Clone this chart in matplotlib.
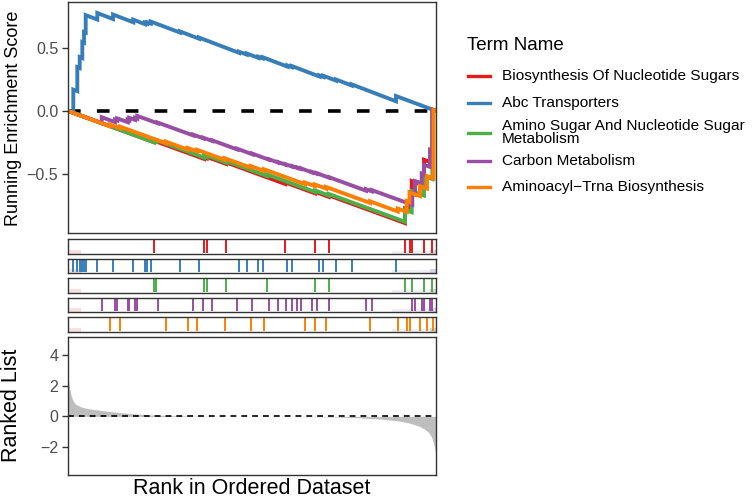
import matplotlib
matplotlib.use('Agg')
import matplotlib.pyplot as plt
from matplotlib.lines import Line2D

plt.rcParams['font.family'] = ['Liberation Sans', 'DejaVu Sans']

# 1. data
n_genes = 1000
terms = ['Biosynthesis Of Nucleotide Sugars', 'Abc Transporters',
         'Amino Sugar And Nucleotide Sugar\nMetabolism', 'Carbon Metabolism',
         'Aminoacyl\u2212Trna Biosynthesis']
colors = ['#E41A1C', '#377EB8', '#4DAF4A', '#984EA3', '#FF7F00']

# hit ranks, running score just before and just after each hit
red_hits = [233.7, 369.6, 376.9, 429.3, 589.7, 671.2, 708.4, 915.8, 929.3, 934.0, 967.4, 990.0]
red_before = [-0.250, -0.383, -0.379, -0.423, -0.583, -0.658, -0.686, -0.896, -0.794, -0.675, -0.596, -0.414]
red_after = [-0.238, -0.371, -0.367, -0.411, -0.571, -0.646, -0.674, -0.780, -0.670, -0.560, -0.390, 0.010]

blue_hits = [14.4, 25.3, 31.8, 38.9, 43.5, 48.1, 79.6, 122.3, 177.4, 209.2, 215.5, 224.7, 304.3,
             356.0, 464.7, 485.6, 517.1, 529.1, 596.0, 608.0, 683.0, 693.8, 728.3, 771.0, 891.3]
blue_before = [-0.015, 0.158, 0.343, 0.422, 0.545, 0.625, 0.730, 0.734, 0.708, 0.693, 0.698, 0.698, 0.626,
               0.577, 0.464, 0.450, 0.424, 0.420, 0.354, 0.350, 0.275, 0.272, 0.242, 0.203, 0.077]
blue_after = [0.170, 0.350, 0.430, 0.550, 0.630, 0.765, 0.782, 0.770, 0.729, 0.705, 0.708, 0.714, 0.635,
              0.586, 0.473, 0.459, 0.433, 0.429, 0.363, 0.359, 0.284, 0.281, 0.251, 0.212, 0.119]

green_hits = [233.7, 240.0, 369.6, 376.9, 430.0, 541.6, 671.2, 708.4, 915.8, 934.0, 967.4, 990.0]
green_before = [-0.250, -0.245, -0.372, -0.368, -0.413, -0.520, -0.647, -0.675, -0.885, -0.809, -0.676, -0.544]
green_after = [-0.238, -0.233, -0.360, -0.356, -0.401, -0.508, -0.635, -0.663, -0.790, -0.640, -0.520, 0.010]

purple_hits = [91.6, 127.7, 134.0, 162.2, 166.6, 182.0, 188.3, 243.8, 340.5, 367.7, 392.1, 460.0, 500.8,
               546.2, 571.5, 591.6, 609.5, 623.1, 632.3, 663.9, 675.8, 710.0, 809.8, 825.3, 935.6, 943.0,
               961.1, 967.4, 983.7, 990.0]
purple_before = [-0.098, -0.089, -0.076, -0.090, -0.075, -0.071, -0.062, -0.099, -0.196, -0.219, -0.240,
                 -0.308, -0.346, -0.390, -0.413, -0.430, -0.445, -0.456, -0.462, -0.492, -0.501, -0.534,
                 -0.637, -0.642, -0.750, -0.668, -0.578, -0.507, -0.447, -0.317]
purple_after = [-0.050, -0.069, -0.060, -0.070, -0.055, -0.055, -0.040, -0.093, -0.190, -0.214, -0.235,
                -0.302, -0.341, -0.386, -0.409, -0.426, -0.441, -0.452, -0.458, -0.488, -0.497, -0.530,
                -0.625, -0.632, -0.660, -0.560, -0.500, -0.430, -0.310, 0.010]

orange_hits = [112.8, 142.1, 265.8, 325.5, 351.4, 425.3, 496.5, 532.6, 644.0, 670.4, 701.1, 820.7, 896.0,
               920.4, 928.0, 956.5, 975.5, 993.2]
orange_before = [-0.121, -0.139, -0.258, -0.309, -0.324, -0.390, -0.453, -0.479, -0.585, -0.600, -0.620,
                 -0.735, -0.803, -0.806, -0.728, -0.680, -0.620, -0.538]
orange_after = [-0.108, -0.126, -0.245, -0.296, -0.311, -0.377, -0.440, -0.466, -0.572, -0.587, -0.607,
                -0.722, -0.780, -0.720, -0.650, -0.600, -0.520, 0.005]

# ranked list metric
rank_pos = [0, 3, 8, 12, 20, 35, 55, 90, 120, 170, 220, 280, 350, 450, 600, 700, 780, 850, 900, 930,
            955, 970, 980, 988, 994, 998, 1000]
rank_val = [2.7, 2.0, 1.4, 1.1, 0.8, 0.62, 0.5, 0.38, 0.3, 0.18, 0.1, 0.05, 0.02, 0.0, -0.01, -0.03,
            -0.08, -0.18, -0.3, -0.45, -0.65, -0.85, -1.05, -1.35, -1.8, -2.3, -2.5]

all_hits = [red_hits, blue_hits, green_hits, purple_hits, orange_hits]
all_before = [red_before, blue_before, green_before, purple_before, orange_before]
all_after = [red_after, blue_after, green_after, purple_after, orange_after]

# 2. figure
W, H = 752, 500
fig = plt.figure(figsize=(7.52, 5.0), dpi=100)
border = '#333333'
tick_col = '#4D4D4D'

def px_axes(left, top, right, bottom):
    return fig.add_axes([left / W, 1 - bottom / H, (right - left) / W, (bottom - top) / H])

def style(ax):
    for s in ax.spines.values():
        s.set_color(border)
        s.set_linewidth(1.0)
    ax.set_xlim(0, n_genes)
    ax.set_xticks([])

# top: running score
ax1 = px_axes(68, 2, 436, 233)
style(ax1)
ax1.axhline(0, color='black', lw=2.6, ls=(0, (3.5, 4.5)), zorder=1)
for i in range(len(terms)):
    xs = [0]
    ys = [0]
    for h, b, a in zip(all_hits[i], all_before[i], all_after[i]):
        xs += [h, h]
        ys += [b, a]
    xs.append(n_genes)
    ys.append(0)
    ax1.plot(xs, ys, color=colors[i], lw=2.8, solid_joinstyle='miter', zorder=2)
ax1.set_ylim(-0.975, 0.87)
ax1.set_yticks([-0.5, 0.0, 0.5])
ax1.tick_params(axis='y', length=4, width=1, color=border, labelcolor=tick_col, labelsize=11.5, pad=3)

# rugs
rug_tops = [239, 258.5, 278, 297.5, 317]
for i, top in enumerate(rug_tops):
    ax = px_axes(68, top, 436, top + 14.5)
    style(ax)
    ax.set_yticks([])
    ax.set_ylim(0, 1)
    ax.axvspan(0, 35, 0, 0.25, color='#F9E0E0', lw=0)
    ax.axvspan(880, 1000, 0, 0.2, color='#EDEFF5', lw=0)
    ax.axvspan(985, 1000, 0, 0.25, color='#D3D6DF', lw=0)
    ax.vlines(all_hits[i], 0.04, 0.96, color=colors[i], lw=1.4)

# bottom: ranked list
ax3 = px_axes(68, 337, 436, 475)
style(ax3)
ax3.fill_between(rank_pos, rank_val, 0, color='#BEBEBE', lw=0)
ax3.axhline(0, color='black', lw=1.2, ls=(0, (3.5, 3)))
ax3.set_ylim(-3.82, 5.17)
ax3.set_yticks([-2, 0, 2, 4])
ax3.tick_params(axis='y', length=4, width=1, color=border, labelcolor=tick_col, labelsize=11.5, pad=3)

fig.text(14 / W, 1 - 118 / H, 'Running Enrichment Score', rotation=90, ha='center', va='center',
         fontsize=13)
fig.text(12 / W, 1 - 405 / H, 'Ranked List', rotation=90, ha='center', va='center', fontsize=15.5)
fig.text(252 / W, 1 - 488 / H, 'Rank in Ordered Dataset', ha='center', va='center', fontsize=15.5)

# legend, drawn by hand so the wrapped key sits like the ggplot one
fig.text(467 / W, 1 - 45 / H, 'Term Name', ha='left', va='center', fontsize=13.5)
key_y = [75.7, 102.7, 132.5, 161, 186.7]
for term, c, y in zip(terms, colors, key_y):
    fig.add_artist(Line2D([468 / W, 490 / W], [1 - y / H, 1 - y / H], color=c, lw=2.4))
    fig.text(502 / W, 1 - y / H, term, ha='left', va='center', fontsize=11.1, linespacing=0.95)

fig.savefig('out.png', dpi=100)
